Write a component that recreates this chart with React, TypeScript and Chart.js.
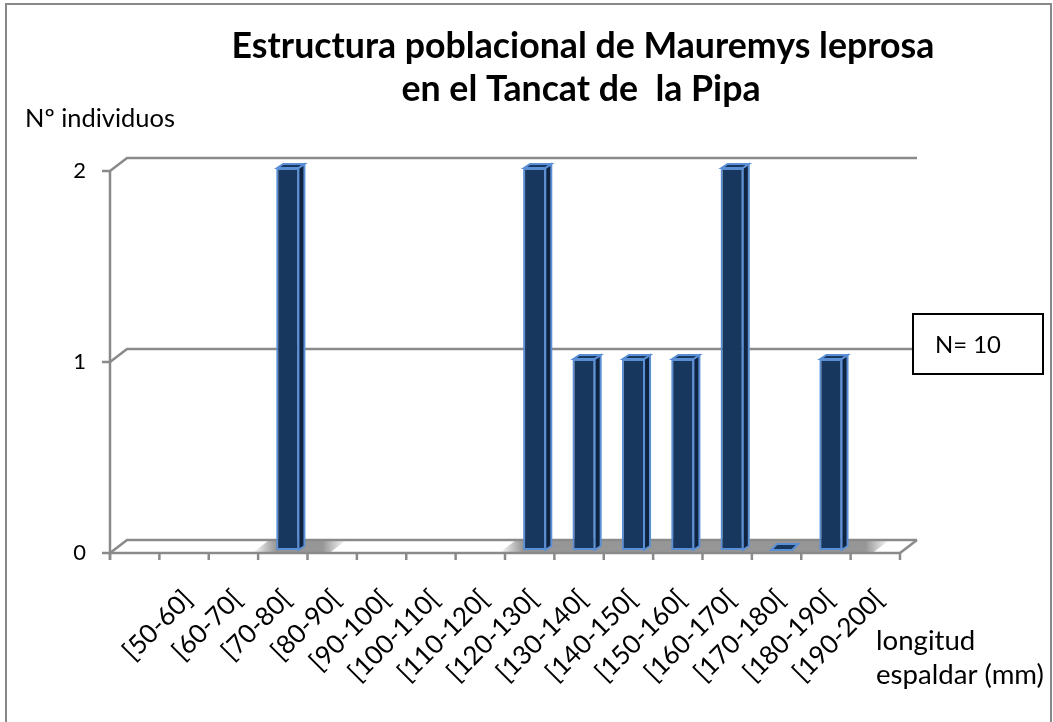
import { useEffect, useRef } from "react";
import { Chart, registerables } from "chart.js";

Chart.register(...registerables);

// ---------- data ----------
const categories = [
  "",
  "[50-60]",
  "[60-70[",
  "[70-80[",
  "[80-90[",
  "[90-100[",
  "[100-110[",
  "[110-120[",
  "[120-130[",
  "[130-140[",
  "[140-150[",
  "[150-160[",
  "[160-170[",
  "[170-180[",
  "[180-190[",
  "[190-200[",
];
const counts: (number | null)[] = [null, null, null, 2, null, null, null, null, 2, 1, 1, 1, 2, 0, 1, null];
const yTicks = [0, 1, 2];
const titleLines = ["Estructura poblacional de Mauremys leprosa", "en el Tancat de  la Pipa"];
const yTitle = "Nº individuos";
const xTitleLines = ["longitud", "espaldar (mm)"];
const noteText = "N= 10";

// ---------- style ----------
const W = 1053;
const H = 722;
const FAMILY = 'Lato, "Open Sans", "DejaVu Sans", sans-serif';
const GRID = "#8a8a8a";
const WALL_DX = 17;
const WALL_DY = 13;
const BAR_DX = 6;
const BAR_DY = 4;
const SHIFT_X = 5;
const SHIFT_Y = -3;
const FRONT = "#17375e";
const SIDE = "#0f2440";
const EDGE = "#5b8fd5";

function fitSize(ctx: CanvasRenderingContext2D, text: string, weight: string, target: number) {
  ctx.font = `${weight} 100px ${FAMILY}`;
  const w = ctx.measureText(text).width;
  return (target / w) * 100;
}

const threeD = {
  id: "threeD",
  beforeDraw(chart: any) {
    const ctx = chart.ctx as CanvasRenderingContext2D;
    ctx.save();
    ctx.fillStyle = "#ffffff";
    ctx.fillRect(0, 0, W, H);
    ctx.strokeStyle = "#888888";
    ctx.lineWidth = 2;
    ctx.strokeRect(6, 4, 1045, 760);
    ctx.restore();
  },
  beforeDatasetsDraw(chart: any) {
    const ctx = chart.ctx as CanvasRenderingContext2D;
    const { left, right } = chart.chartArea;
    const y = chart.scales.y;
    const y0 = y.getPixelForValue(0);
    const meta = chart.getDatasetMeta(0);

    // floor shadows
    const spans: [number, number][] = [];
    meta.data.forEach((el: any, i: number) => {
      if (counts[i] === null || counts[i] === undefined) return;
      const s = el.x - el.width / 2 + SHIFT_X - 24;
      const e = el.x + el.width / 2 + SHIFT_X + BAR_DX + 24;
      if (spans.length && s <= spans[spans.length - 1][1]) spans[spans.length - 1][1] = e;
      else spans.push([s, e]);
    });
    ctx.save();
    spans.forEach(([s, e]) => {
      const g = ctx.createLinearGradient(s, 0, e + WALL_DX, 0);
      const total = e + WALL_DX - s;
      const f = Math.min(0.45, 24 / total);
      g.addColorStop(0, "rgba(150,150,150,0)");
      g.addColorStop(f, "rgba(150,150,150,1)");
      g.addColorStop(1 - f, "rgba(150,150,150,1)");
      g.addColorStop(1, "rgba(150,150,150,0)");
      ctx.fillStyle = g;
      ctx.beginPath();
      ctx.moveTo(s, y0);
      ctx.lineTo(e, y0);
      ctx.lineTo(e + WALL_DX, y0 - WALL_DY);
      ctx.lineTo(s + WALL_DX, y0 - WALL_DY);
      ctx.closePath();
      ctx.fill();
    });

    // back wall gridlines + side diagonals
    ctx.strokeStyle = GRID;
    ctx.lineWidth = 2.5;
    ctx.lineCap = "butt";
    yTicks.forEach((v) => {
      const py = y.getPixelForValue(v);
      ctx.beginPath();
      ctx.moveTo(left, py);
      ctx.lineTo(left + WALL_DX, py - WALL_DY);
      ctx.lineTo(right + WALL_DX, py - WALL_DY);
      ctx.stroke();
    });
    // floor right edge
    ctx.beginPath();
    ctx.moveTo(right, y0);
    ctx.lineTo(right + WALL_DX, y0 - WALL_DY);
    ctx.stroke();
    ctx.restore();

    ctx.save();
    ctx.translate(SHIFT_X, SHIFT_Y);
  },
  afterDatasetsDraw(chart: any) {
    const ctx = chart.ctx as CanvasRenderingContext2D;
    const meta = chart.getDatasetMeta(0);
    ctx.lineWidth = 2;
    ctx.lineJoin = "miter";
    meta.data.forEach((el: any, i: number) => {
      if (counts[i] === null || counts[i] === undefined) return;
      const l = el.x - el.width / 2;
      const r = el.x + el.width / 2;
      const top = el.y;
      const base = el.base;
      // side face
      if (base - top > 0.5) {
        ctx.fillStyle = SIDE;
        ctx.strokeStyle = EDGE;
        ctx.beginPath();
        ctx.moveTo(r - 1, top);
        ctx.lineTo(r - 1 + BAR_DX, top - BAR_DY);
        ctx.lineTo(r - 1 + BAR_DX, base - BAR_DY);
        ctx.lineTo(r - 1, base);
        ctx.closePath();
        ctx.fill();
        ctx.stroke();
      }
      // top face
      const dy = base - top > 0.5 ? BAR_DY : BAR_DY + 2;
      ctx.fillStyle = FRONT;
      ctx.strokeStyle = EDGE;
      ctx.beginPath();
      ctx.moveTo(l + 1, top);
      ctx.lineTo(r - 1, top);
      ctx.lineTo(r - 1 + BAR_DX, top - dy);
      ctx.lineTo(l + 1 + BAR_DX, top - dy);
      ctx.closePath();
      ctx.fill();
      ctx.stroke();
    });
    ctx.restore();

    // front axes
    const { left, right } = chart.chartArea;
    const x = chart.scales.x;
    const y = chart.scales.y;
    const y0 = y.getPixelForValue(0);
    const yTop = y.getPixelForValue(yTicks[yTicks.length - 1]);
    ctx.save();
    ctx.strokeStyle = GRID;
    ctx.lineWidth = 2.5;
    ctx.beginPath();
    ctx.moveTo(left, yTop);
    ctx.lineTo(left, y0 + 7);
    ctx.moveTo(left, y0);
    ctx.lineTo(right, y0);
    ctx.stroke();
    // y ticks
    yTicks.forEach((v) => {
      const py = y.getPixelForValue(v);
      ctx.beginPath();
      ctx.moveTo(left - 8, py);
      ctx.lineTo(left, py);
      ctx.stroke();
    });
    // x ticks at category boundaries
    const step = (right - left) / categories.length;
    for (let i = 0; i <= categories.length; i++) {
      const px = x.getPixelForValue(0) - step / 2 + i * step;
      ctx.beginPath();
      ctx.moveTo(px, y0);
      ctx.lineTo(px, y0 + 7);
      ctx.stroke();
    }
    ctx.restore();

    // texts
    ctx.save();
    ctx.fillStyle = "#000000";
    // y tick labels
    ctx.font = `22px ${FAMILY}`;
    ctx.textAlign = "right";
    ctx.textBaseline = "middle";
    yTicks.forEach((v) => {
      ctx.fillText(String(v), 86, y.getPixelForValue(v));
    });
    // x tick labels
    ctx.font = `26px ${FAMILY}`;
    categories.forEach((c, i) => {
      if (!c) return;
      const cx = x.getPixelForValue(i);
      ctx.save();
      ctx.translate(cx + 4, y0 + 42);
      ctx.rotate(-Math.PI / 4);
      ctx.textAlign = "right";
      ctx.textBaseline = "middle";
      ctx.fillText(c, 0, 0);
      ctx.restore();
    });

    // title
    const ts = fitSize(ctx, titleLines[0], "bold", 703);
    ctx.font = `bold ${ts}px ${FAMILY}`;
    ctx.textAlign = "center";
    ctx.textBaseline = "alphabetic";
    ctx.fillText(titleLines[0], 583, 58);
    ctx.fillText(titleLines[1], 581, 101);

    // y title
    const ys = fitSize(ctx, yTitle, "normal", 150);
    ctx.font = `${ys}px ${FAMILY}`;
    ctx.textAlign = "left";
    ctx.fillText(yTitle, 25, 127);

    // x title
    const xs = fitSize(ctx, xTitleLines[1], "normal", 168);
    ctx.font = `${xs}px ${FAMILY}`;
    ctx.fillText(xTitleLines[0], 876, 650);
    ctx.fillText(xTitleLines[1], 876, 684);

    // N box
    ctx.fillStyle = "#ffffff";
    ctx.fillRect(913, 314, 130, 60);
    ctx.strokeStyle = "#000000";
    ctx.lineWidth = 2;
    ctx.strokeRect(913, 314, 130, 60);
    const ns = fitSize(ctx, noteText, "normal", 66);
    ctx.font = `${ns}px ${FAMILY}`;
    ctx.fillStyle = "#000000";
    ctx.textBaseline = "middle";
    ctx.fillText(noteText, 935, 345);
    ctx.restore();
  },
};

export default function App() {
  const ref = useRef<HTMLCanvasElement | null>(null);
  useEffect(() => {
    if (!ref.current) return;
    const chart = new Chart(ref.current, {
      type: "bar",
      data: {
        labels: categories,
        datasets: [
          {
            data: counts,
            backgroundColor: FRONT,
            borderColor: EDGE,
            borderWidth: 2,
            borderSkipped: false,
            barPercentage: 0.47,
            categoryPercentage: 1,
          },
        ],
      },
      options: {
        responsive: false,
        devicePixelRatio: 1,
        animation: false,
        layout: { padding: { left: 110, right: 153, top: 171, bottom: 169 } },
        scales: {
          x: { type: "category", display: false, offset: true },
          y: { display: false, min: 0, max: 2 },
        },
        plugins: {
          legend: { display: false },
          tooltip: { enabled: false },
          title: { display: false },
        },
      },
      plugins: [threeD],
    } as any);
    return () => chart.destroy();
  }, []);
  return (
    <div style={{ position: "absolute", left: 0, top: 0, width: W, height: H }}>
      <canvas ref={ref} width={W} height={H} style={{ display: "block", width: W, height: H }} />
    </div>
  );
}
